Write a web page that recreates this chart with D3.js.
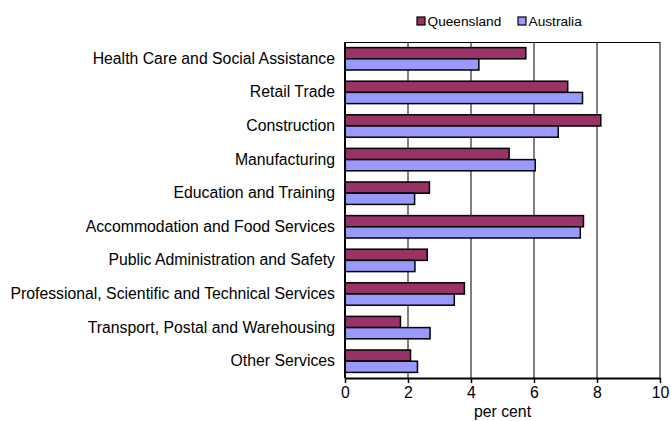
<!DOCTYPE html>
<html>
<head>
<meta charset="utf-8">
<script src="https://cdn.jsdelivr.net/npm/d3@7"></script>
<style>
  html, body { margin: 0; padding: 0; background: #fff; }
  svg { display: block; font-family: "Liberation Sans", Arial, sans-serif; }
</style>
</head>
<body>
<svg id="chart" width="671" height="421"></svg>
<script>
const categories = [
  "Health Care and Social Assistance",
  "Retail Trade",
  "Construction",
  "Manufacturing",
  "Education and Training",
  "Accommodation and Food Services",
  "Public Administration and Safety",
  "Professional, Scientific and Technical Services",
  "Transport, Postal and Warehousing",
  "Other Services"
];
const seriesNames = ["Queensland", "Australia"];
const queensland = [5.74, 7.07, 8.12, 5.21, 2.68, 7.57, 2.61, 3.79, 1.76, 2.08];
const australia  = [4.25, 7.54, 6.77, 6.04, 2.21, 7.47, 2.22, 3.47, 2.70, 2.30];
const xTicks = [0, 2, 4, 6, 8, 10];
const xLabel = "per cent";
const colors = ["#993366", "#9999FF"];

const FONT = "'Liberation Sans', Arial, sans-serif";
const svg = d3.select("#chart");
const m = { left: 345, right: 660, top: 42, bottom: 378 };

const x = d3.scaleLinear().domain([0, 10]).range([m.left, m.right]);
const y = d3.scaleBand().domain(categories).range([m.top, m.bottom])
  .paddingInner(1/3).paddingOuter(1/6);
const ySub = d3.scaleBand().domain(seriesNames).range([0, y.bandwidth()]);

// gridlines
svg.append("g").selectAll("line").data(xTicks.slice(1)).join("line")
  .attr("x1", d => x(d)).attr("x2", d => x(d))
  .attr("y1", m.top).attr("y2", m.bottom)
  .attr("stroke", "#000").attr("stroke-width", 1);
// top border
svg.append("line").attr("x1", m.left).attr("x2", m.right)
  .attr("y1", m.top + 0.5).attr("y2", m.top + 0.5)
  .attr("stroke", "#000").attr("stroke-width", 1);

const table = categories.map((c, i) => ({ cat: c, values: [queensland[i], australia[i]] }));

const groups = svg.append("g").selectAll("g").data(table).join("g")
  .attr("transform", d => `translate(0,${y(d.cat)})`);
groups.selectAll("rect").data(d => d.values.map((v, j) => ({ v, s: seriesNames[j], j })))
  .join("rect")
  .attr("x", x(0))
  .attr("y", d => ySub(d.s))
  .attr("width", d => x(d.v) - x(0))
  .attr("height", ySub.bandwidth())
  .attr("fill", d => colors[d.j])
  .attr("stroke", "#000")
  .attr("stroke-width", 1.5);

// x axis
const xAxis = d3.axisBottom(x).tickValues(xTicks).tickSize(5).tickSizeOuter(0).tickFormat(d3.format("d"));
const gx = svg.append("g").attr("transform", `translate(0,${m.bottom})`).call(xAxis);
gx.select(".domain").attr("stroke", "#000").attr("stroke-width", 2);
gx.selectAll(".tick line").attr("stroke", "#000").attr("stroke-width", 1.5);
gx.selectAll(".tick text").attr("font-size", "15.8px").attr("fill", "#000")
  .attr("font-family", FONT).attr("y", 9).attr("dy", "0.71em");

// y axis
const yAxis = d3.axisLeft(y).tickSize(0).tickPadding(10);
const gy = svg.append("g").attr("transform", `translate(${m.left},0)`).call(yAxis);
gy.select(".domain").attr("stroke", "#000").attr("stroke-width", 2)
  .attr("d", `M0,${m.top}V${m.bottom}`);
gy.selectAll(".tick text").attr("font-size", "15.8px").attr("fill", "#000")
  .attr("font-family", FONT);

// x label
svg.append("text").attr("x", (m.left + m.right) / 2).attr("y", 417)
  .attr("text-anchor", "middle").attr("font-size", "15.8px").attr("font-family", FONT).text(xLabel);

// legend
const legX = [417, 518];
const leg = svg.append("g").selectAll("g").data(seriesNames).join("g")
  .attr("transform", (d, i) => `translate(${legX[i]},17)`);
leg.append("rect").attr("width", 8).attr("height", 8)
  .attr("fill", (d, i) => colors[i]).attr("stroke", "#000").attr("stroke-width", 1.2);
leg.append("text").attr("x", 10.5).attr("y", 9).attr("font-size", "13.7px")
  .attr("font-family", FONT).text(d => d);
</script>
</body>
</html>
